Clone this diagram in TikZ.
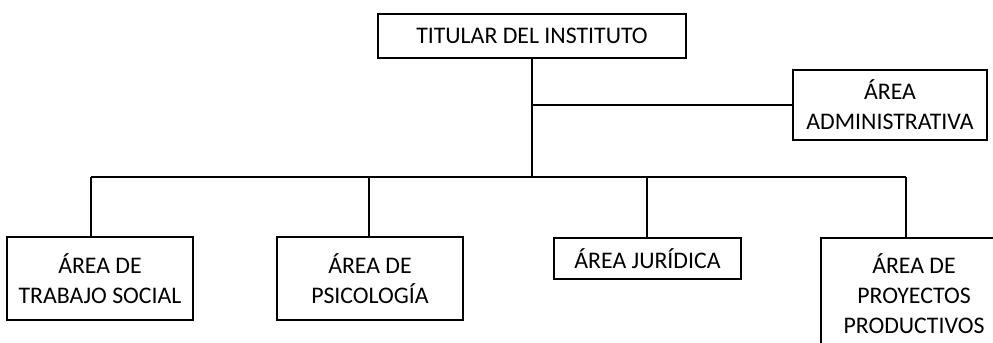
\documentclass[tikz,border=0pt]{standalone}
\usepackage{fontspec}
\setmainfont{Carlito}
\usetikzlibrary{calc}
\tikzset{
    caja/.style={draw, line width=0.9pt, align=center, inner sep=0pt,
        font=\fontsize{11.9}{15}\selectfont},
    linea/.style={line width=0.9pt}
}

\begin{document}
\begin{tikzpicture}[x=0.5pt,y=-0.5pt]
        \useasboundingbox (0,0) rectangle (993,343);
        \clip (0,0) rectangle (993,343);
        \node[caja, minimum width=154pt, minimum height=22pt] at (532,36) (titular) {TITULAR DEL INSTITUTO};
        \node[caja, minimum width=97pt, minimum height=35pt] at (890,105) (admin) {ÁREA\\ADMINISTRATIVA};
        \coordinate (rama) at (532,105);
        \coordinate (bus) at (532,177);
        \draw[linea] (titular) -- (bus);
        \draw[linea] (rama) -- (admin);
        \coordinate (b1) at (91,177);
        \coordinate (b2) at (369,177);
        \coordinate (b3) at (647,177);
        \coordinate (b4) at (906,177);
        \draw[linea] (b1) -- (b4);
        \node[caja, minimum width=93pt, minimum height=41.5pt] at (100,278.5) (social) {ÁREA DE\\TRABAJO SOCIAL};
        \draw[linea] (b1) -- (b1 |- social.north);
        \node[caja, minimum width=93pt, minimum height=41.5pt] at (370,278.5) (psico) {ÁREA DE\\PSICOLOGÍA};
        \draw[linea] (b2) -- (b2 |- psico.north);
        \node[caja, minimum width=93.5pt, minimum height=20.5pt] at (647.5,258.5) (juridica) {ÁREA JURÍDICA};
        \draw[linea] (b3) -- (b3 |- juridica.north);
        \node[caja, minimum width=93pt, minimum height=56pt] at (914,294) (proyectos) {ÁREA DE\\PROYECTOS\\PRODUCTIVOS};
        \draw[linea] (b4) -- (b4 |- proyectos.north);
    \end{tikzpicture}
\end{document}
